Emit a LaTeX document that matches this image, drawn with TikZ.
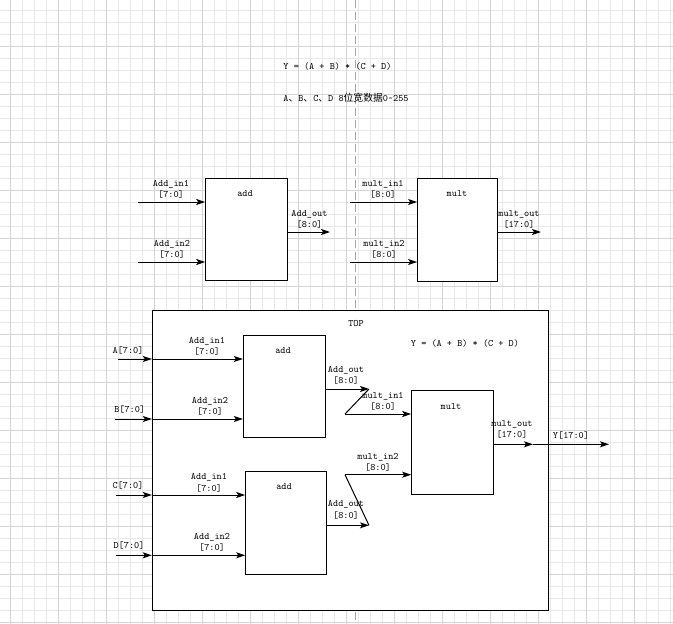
\documentclass[tikz,border=0pt]{standalone}
\usepackage{fontspec}
\newfontfamily\cjk{Noto Sans CJK SC}
\usetikzlibrary{arrows.meta}
\begin{document}
\begin{tikzpicture}[x=1pt,y=-1pt,
  minor/.style={draw=black!9, line width=0.8pt},
  major/.style={draw=black!17, line width=0.8pt},
  blk/.style={draw=black, fill=white, line width=1pt, inner sep=0},
  lbl/.style={inner sep=0, align=center, font=\ttfamily\fontsize{9.8}{11.5}\selectfont},
  wire/.style={draw=black, line width=1pt},
  arr/.style={wire, -{Stealth[length=9pt,width=6pt,inset=2pt]}},
  guide/.style={draw=black!35, line width=1pt, dash pattern=on 8pt off 4pt}
]
\useasboundingbox (0,0) rectangle (673,624);
% grid
\foreach \i in {10,22,...,670} \draw[minor] (\i,0) -- (\i,624);
\foreach \j in {10,22,...,622} \draw[minor] (0,\j) -- (673,\j);
\foreach \i in {10,58,...,670} \draw[major] (\i,0) -- (\i,624);
\foreach \j in {46,94,...,622} \draw[major] (0,\j) -- (673,\j);
% dashed guide
\draw[guide] (355.3,0) -- (355.3,624);

% header texts
\node[lbl] (t1) at (337.5,66) {Y = (A + B) * (C + D)};
\node[lbl] (t2) at (346,98) {A{\cjk 、}B{\cjk 、}C{\cjk 、}D 8{\cjk 位宽数据}0\textasciitilde255};

% ---------- upper modules ----------
\node[blk, minimum width=81.6pt, minimum height=102.4pt] (addU) at (246.5,229.5) {};
\node[lbl] (addUt) at (245,194) {add};
\coordinate (uA1) at (138,202);
\coordinate (uA2) at (138,262);
\coordinate (uAo) at (330,232);
\draw[arr] (uA1) -- (uA1 -| addU.west);
\draw[arr] (uA2) -- (uA2 -| addU.west);
\draw[arr] (addU.east |- uAo) -- (uAo);
\node[lbl] (uA1t) at (171,189.5) {Add\_in1\\{[7:0]}};
\node[lbl] (uA2t) at (172,249.5) {Add\_in2\\{[7:0]}};
\node[lbl] (uAot) at (309.5,219.5) {Add\_out\\{[8:0]}};

\node[blk, minimum width=80.3pt, minimum height=103pt] (multU) at (457.8,229.5) {};
\node[lbl] (multUt) at (457,194) {mult};
\coordinate (uM1) at (350,202);
\coordinate (uM2) at (350,262);
\coordinate (uMo) at (541,232);
\draw[arr] (uM1) -- (uM1 -| multU.west);
\draw[arr] (uM2) -- (uM2 -| multU.west);
\draw[arr] (multU.east |- uMo) -- (uMo);
\node[lbl] (uM1t) at (383,189.5) {mult\_in1\\{[8:0]}};
\node[lbl] (uM2t) at (384,249.5) {mult\_in2\\{[8:0]}};
\node[lbl] (uMot) at (519,219.5) {mult\_out\\{[17:0]}};

% ---------- TOP ----------
\node[blk, minimum width=396.2pt, minimum height=299.7pt] (top) at (350.4,460.15) {};
\node[lbl] (topt) at (356,324) {TOP};
\node[lbl] (topf) at (465,343) {Y = (A + B) * (C + D)};

\node[blk, minimum width=82.4pt, minimum height=102.4pt] (addA) at (284.5,386.5) {};
\node[lbl] (addAt) at (283,351) {add};
\node[blk, minimum width=81pt, minimum height=103pt] (addB) at (286.2,522.8) {};
\node[lbl] (addBt) at (284,487) {add};
\node[blk, minimum width=81.6pt, minimum height=103.3pt] (multL) at (452.5,442.35) {};
\node[lbl] (multLt) at (451,407) {mult};

\coordinate (pA) at (118,359);
\coordinate (pB) at (115,419);
\coordinate (pC) at (116,495);
\coordinate (pD) at (116,555.3);
\draw[arr] (pA) -- (pA -| top.west);
\draw[arr] (pA -| top.west) -- (pA -| addA.west);
\draw[arr] (pB) -- (pB -| top.west);
\draw[arr] (pB -| top.west) -- (pB -| addA.west);
\draw[arr] (pC) -- (pC -| top.west);
\draw[arr] (pC -| top.west) -- (pC -| addB.west);
\draw[arr] (pD) -- (pD -| top.west);
\draw[arr] (pD -| top.west) -- (pD -| addB.west);

\node[lbl] (pAt) at (128,350.7) {A[7:0]};
\node[lbl] (pBt) at (129.7,410) {B[7:0]};
\node[lbl] (pCt) at (128,486) {C[7:0]};
\node[lbl] (pDt) at (129,546) {D[7:0]};
\node[lbl] (aA1t) at (207,346.3) {Add\_in1\\{[7:0]}};
\node[lbl] (aA2t) at (210,406.3) {Add\_in2\\{[7:0]}};
\node[lbl] (aB1t) at (209,482.7) {Add\_in1\\{[7:0]}};
\node[lbl] (aB2t) at (212,542.3) {Add\_in2\\{[7:0]}};

\coordinate (o1) at (369,389);
\coordinate (m1) at (345,414);
\coordinate (o2) at (369,525.3);
\coordinate (m2) at (345,474.7);
\draw[arr] (addA.east |- o1) -- (o1);
\draw[wire] (o1) -- (m1);
\draw[arr] (m1) -- (m1 -| multL.west);
\draw[arr] (addB.east |- o2) -- (o2);
\draw[wire] (o2) -- (m2);
\draw[arr] (m2) -- (m2 -| multL.west);
\node[lbl] (aAot) at (346,375.5) {Add\_out\\{[8:0]}};
\node[lbl] (aBot) at (346,510) {Add\_out\\{[8:0]}};
\node[lbl] (m1t) at (383,401.5) {mult\_in1\\{[8:0]}};
\node[lbl] (m2t) at (378,462.5) {mult\_in2\\{[8:0]}};

\coordinate (yo) at (533,444.3);
\coordinate (yend) at (609,444.3);
\draw[arr] (multL.east |- yo) -- (yo);
\draw[arr] (yo) -- (yend);
\node[lbl] (mot) at (512,429.5) {mult\_out\\{[17:0]}};
\node[lbl] (yt) at (571,436) {Y[17:0]};
\end{tikzpicture}
\end{document}
